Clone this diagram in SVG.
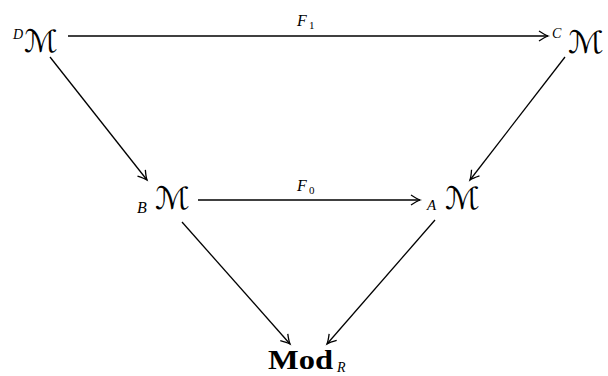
<svg xmlns="http://www.w3.org/2000/svg" width="608" height="376" viewBox="0 0 608 376">
<style>
.it{font-family:"Liberation Serif",serif;font-style:italic;fill:#000}
.sc{font-family:"DejaVu Serif","DejaVu Sans",serif;font-style:italic;fill:#000;font-size:31px}
.num{font-family:"Liberation Serif",serif;fill:#000}
.bold{font-family:"Liberation Serif",serif;font-weight:bold;fill:#000}
.edge{stroke:#000;stroke-width:1.3;fill:none;marker-end:url(#arr)}
</style>
<defs>
<marker id="arr" markerUnits="userSpaceOnUse" markerWidth="14" markerHeight="14" viewBox="-10 -7 12 14" refX="0" refY="0" orient="auto">
<path d="M-9,-5 Q-3,-1 0,0 Q-3,1 -9,5" stroke="#000" stroke-width="1.3" fill="none"/>
</marker>
</defs>
<rect width="608" height="376" fill="#fff"/>
<g id="connectors">
<line class="edge" x1="68" y1="36" x2="548" y2="36"/>
<line class="edge" x1="50" y1="57" x2="147" y2="180"/>
<line class="edge" x1="565" y1="57" x2="470" y2="180"/>
<line class="edge" x1="198" y1="200" x2="420" y2="200"/>
<line class="edge" x1="182" y1="222" x2="290" y2="344"/>
<line class="edge" x1="435" y1="220" x2="327" y2="344"/>
<g id="label-F1"><text class="it" x="297" y="26" font-size="16">F</text><text class="num" x="309" y="29" font-size="11">1</text></g>
<g id="label-F0"><text class="it" x="297" y="191" font-size="16">F</text><text class="num" x="309" y="194" font-size="11">0</text></g>
</g>
<g id="node-DM"><text class="it" x="13" y="39" font-size="14">D</text><text class="sc" x="24" y="52" textLength="34" lengthAdjust="spacingAndGlyphs">ℳ</text></g>
<g id="node-CM"><text class="it" x="552" y="38" font-size="14">C</text><text class="sc" x="568" y="53" textLength="36" lengthAdjust="spacingAndGlyphs">ℳ</text></g>
<g id="node-BM"><text class="it" x="137" y="213" font-size="16">B</text><text class="sc" x="155" y="209" textLength="35" lengthAdjust="spacingAndGlyphs">ℳ</text></g>
<g id="node-AM"><text class="it" x="427" y="210" font-size="15">A</text><text class="sc" x="445" y="209" textLength="35" lengthAdjust="spacingAndGlyphs">ℳ</text></g>
<g id="node-ModR"><text class="bold" x="268" y="369" font-size="27" textLength="65" lengthAdjust="spacingAndGlyphs">Mod</text><text class="it" x="337" y="372" font-size="14">R</text></g>
</svg>
